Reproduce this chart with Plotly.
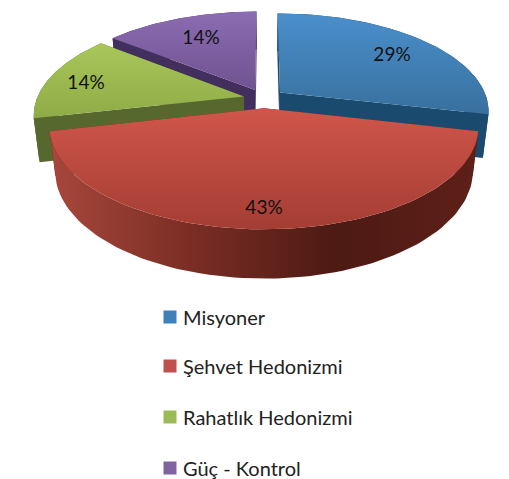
import numpy as np
import plotly.graph_objects as go

categories = ["Misyoner", "Şehvet Hedonizmi", "Rahatlık Hedonizmi", "Güç - Kontrol"]
values = [2, 3, 1, 1]

# top face gradient (back, front), dark side wall
top_colors = [("#4a8fcc", "#38709e"), ("#d0564b", "#a43d33"), ("#a9c75a", "#8fab47"), ("#8c6cb2", "#6f5290")]
wall_colors = ["#1a4a6e", "#6b2219", "#56682e", "#432f5e"]
key_colors = ["#3f7fba", "#c0504d", "#9bbb59", "#8064a2"]

# label spots in page pixels
label_x = [392, 264, 86, 201]
label_y = [56, 209, 84, 39]
legend_y = [317, 366, 417, 468]

# projection of the tilted pie
CX, CY = 264, 98.5
RX, RY, DEPTH = 207, 95.4, 44
PERSP, PERSP_Z = 0.18, 0.025
EXPLODE = 0.1


def project(px_, py_, z=0.0):
    f = 1 / (1 + PERSP * py_ + PERSP_Z * z)
    return CX + RX * px_ * f, CY + (-RY * py_ + DEPTH * z) * f


def add_poly(fig, x, y, color=None, grad=None, orient="vertical"):
    x = np.asarray(x)
    y = np.asarray(y)
    kw = dict(fillcolor=color)
    if grad is not None:
        lo, hi = (y.min(), y.max()) if orient == "vertical" else (x.min(), x.max())
        kw = dict(fillgradient=dict(type=orient, start=lo, stop=hi,
                                    colorscale=[[i / (len(grad) - 1), c] for i, c in enumerate(grad)]))
    fig.add_trace(go.Scatter(x=x, y=y, mode="lines", fill="toself", line=dict(width=0),
                             hoverinfo="skip", showlegend=False, **kw))


shares = np.array(values) / sum(values)
ends = np.cumsum(shares) * 2 * np.pi
starts = ends - shares * 2 * np.pi

fig = go.Figure()

# painter's order: back slices first, the big front slice last
for i in [3, 0, 2, 1]:
    a0, a1 = starts[i], ends[i]
    mid = (a0 + a1) / 2
    ox, oy = EXPLODE * np.sin(mid), EXPLODE * np.cos(mid)
    th = np.linspace(a0, a1, 80)
    rx_, ry_ = ox + np.sin(th), oy + np.cos(th)

    top_x, top_y = project(rx_, ry_)
    low_x, low_y = project(rx_, ry_, 1)
    ax_top, ay_top = project(ox, oy)
    ax_low, ay_low = project(ox, oy, 1)

    # two cut faces
    for k in [0, -1]:
        add_poly(fig, [ax_top, top_x[k], low_x[k], ax_low], [ay_top, top_y[k], low_y[k], ay_low], wall_colors[i])

    # outer rim
    rim_x = np.concatenate([top_x, low_x[::-1]])
    rim_y = np.concatenate([top_y, low_y[::-1]])
    if i == 1:
        add_poly(fig, rim_x, rim_y, grad=["#a8473c", "#7a2d24", "#4d1a14", "#5e2018"], orient="horizontal")
    else:
        add_poly(fig, rim_x, rim_y, wall_colors[i])

    # top face
    add_poly(fig, np.concatenate([[ax_top], top_x]), np.concatenate([[ay_top], top_y]), grad=list(top_colors[i]))

# percent labels
fig.add_trace(go.Scatter(x=label_x, y=label_y, mode="text",
                         text=[f"{round(s * 100)}%" for s in shares],
                         textfont=dict(family="Lato", size=19, color="#111111"),
                         hoverinfo="skip", showlegend=False))

# legend column
fig.add_trace(go.Scatter(x=[170] * 4, y=legend_y, mode="markers",
                         marker=dict(symbol="square", size=13, color=key_colors),
                         hoverinfo="skip", showlegend=False))
fig.add_trace(go.Scatter(x=[183] * 4, y=[y + 3 for y in legend_y], mode="text", text=categories,
                         textposition="middle right",
                         textfont=dict(family="Lato", size=20, color="#222222"),
                         hoverinfo="skip", showlegend=False))

fig.update_layout(
    width=509, height=479,
    margin=dict(t=0, l=0, r=0, b=0),
    paper_bgcolor="white", plot_bgcolor="white",
    showlegend=False,
    xaxis=dict(range=[0, 509], visible=False),
    yaxis=dict(range=[479, 0], visible=False),
)

fig.write_html("out.html", config=dict(displayModeBar=False),
               post_script="document.body.style.margin='0';")
